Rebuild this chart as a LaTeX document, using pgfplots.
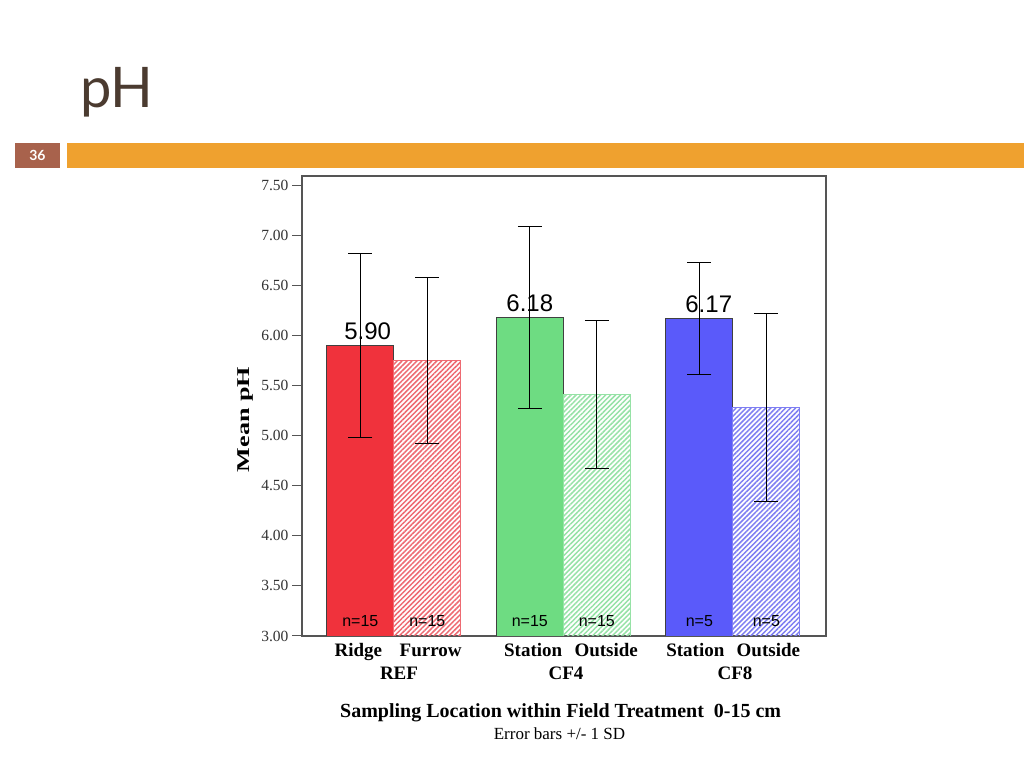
\documentclass[border=0pt]{standalone}
\usepackage{fontspec}
\setmainfont{Liberation Serif}
\newfontfamily\arial{Liberation Sans}
\newfontfamily\lato{Lato}
\usepackage{pgfplots}
\pgfplotsset{compat=1.18}
\usetikzlibrary{patterns.meta}
\definecolor{barred}{HTML}{F0323C}
\definecolor{bargreen}{HTML}{6EDC82}
\definecolor{barblue}{HTML}{5A5AFA}
\definecolor{hatchred}{HTML}{EE6A72}
\definecolor{hatchgreen}{HTML}{96E2A6}
\definecolor{hatchblue}{HTML}{7E7EF2}
\definecolor{slideorange}{HTML}{EFA12F}
\definecolor{slidebrown}{HTML}{A8624C}
\definecolor{titlebrown}{HTML}{4B3B30}
\definecolor{axisgrey}{HTML}{555555}
\pgfplotsset{
  errs/.style={error bars/.cd, y dir=both, y explicit,
    error bar style={black, line width=1bp},
    error mark options={rotate=90, mark size=12bp, black, line width=1bp}},
  solidbar/.style={ybar, bar width=1, bar shift=0pt, fill=#1, draw=black!75, line width=0.8bp},
  hatchbar/.style={ybar, bar width=1, bar shift=0pt, draw=#1, line width=0.8bp,
    pattern={Lines[angle=45, distance=3.5bp, line width=1.5bp]}, pattern color=#1},
}
\begin{document}
\begin{tikzpicture}
\path[fill=white] (0,0) rectangle (1024bp,768bp);
\fill[slidebrown] (15bp,600bp) rectangle (60bp,625bp);
\fill[slideorange] (67bp,600bp) rectangle (1024bp,625bp);
\node[text=white, font=\lato\bfseries\fontsize{14bp}{16bp}\selectfont] at (37.5bp,612.5bp) {36};
\node[anchor=base west, inner sep=0, text=titlebrown, font=\lato\fontsize{56bp}{60bp}\selectfont] at (80bp,660bp) {pH};

\begin{axis}[
  at={(302bp,132bp)}, anchor=south west,
  width=524bp, height=460bp, scale only axis,
  xmin=0, xmax=7.82, ymin=3, ymax=7.59,
  clip mode=individual,
  axis line style={axisgrey, line width=1.2bp},
  ytick={3,3.5,4,4.5,5,5.5,6,6.5,7,7.5},
  /pgf/number format/fixed, /pgf/number format/fixed zerofill,
  /pgf/number format/precision=2, /pgf/number format/assume math mode=true,
  yticklabel style={font=\fontsize{15.5bp}{17bp}\selectfont, text=black!80},
  ytick pos=left, tick align=outside, major tick length=10bp,
  y tick style={axisgrey, line width=1bp},
  xtick={0.84,1.92,3.45,4.54,5.87,6.96},
  xticklabels={Ridge,Furrow,Station,Outside,Station,Outside},
  xticklabel style={font=\bfseries\fontsize{19bp}{21bp}\selectfont, anchor=base, yshift=-11bp, inner sep=0pt},
  x tick style={draw=none},
]
\addplot[solidbar=barred, errs] coordinates {(0.87,5.90) +- (0,0.92)};
\addplot[hatchbar=hatchred, errs] coordinates {(1.87,5.75) +- (0,0.83)};
\addplot[solidbar=bargreen, errs] coordinates {(3.40,6.18) +- (0,0.91)};
\addplot[hatchbar=hatchgreen, errs] coordinates {(4.40,5.41) +- (0,0.74)};
\addplot[solidbar=barblue, errs] coordinates {(5.93,6.17) +- (0,0.56)};
\addplot[hatchbar=hatchblue, errs] coordinates {(6.93,5.28) +- (0,0.94)};

\node[anchor=base, inner sep=0, font=\arial\fontsize{24bp}{26bp}\selectfont] at (axis cs:0.98,5.90) [yshift=6bp] {5.90};
\node[anchor=base, inner sep=0, font=\arial\fontsize{24bp}{26bp}\selectfont] at (axis cs:3.40,6.18) [yshift=6bp] {6.18};
\node[anchor=base, inner sep=0, font=\arial\fontsize{24bp}{26bp}\selectfont] at (axis cs:6.07,6.17) [yshift=6bp] {6.17};

\node[anchor=base, inner sep=0, font=\arial\fontsize{16bp}{18bp}\selectfont] at (axis cs:0.87,3.09) {n=15};
\node[anchor=base, inner sep=0, font=\arial\fontsize{16bp}{18bp}\selectfont] at (axis cs:1.87,3.09) {n=15};
\node[anchor=base, inner sep=0, font=\arial\fontsize{16bp}{18bp}\selectfont] at (axis cs:3.40,3.09) {n=15};
\node[anchor=base, inner sep=0, font=\arial\fontsize{16bp}{18bp}\selectfont] at (axis cs:4.40,3.09) {n=15};
\node[anchor=base, inner sep=0, font=\arial\fontsize{16bp}{18bp}\selectfont] at (axis cs:5.93,3.09) {n=5};
\node[anchor=base, inner sep=0, font=\arial\fontsize{16bp}{18bp}\selectfont] at (axis cs:6.93,3.09) {n=5};
\end{axis}

\node[anchor=base, inner sep=0, font=\bfseries\fontsize{19bp}{21bp}\selectfont] at (399bp,88bp) {REF};
\node[anchor=base, inner sep=0, font=\bfseries\fontsize{19bp}{21bp}\selectfont] at (566bp,88bp) {CF4};
\node[anchor=base, inner sep=0, font=\bfseries\fontsize{19bp}{21bp}\selectfont] at (735bp,88bp) {CF8};
\node[anchor=base west, inner sep=0, font=\bfseries\fontsize{20bp}{22bp}\selectfont] at (340bp,50bp) {Sampling Location within Field Treatment\ \ 0-15 cm};
\node[anchor=base, inner sep=0, font=\fontsize{17bp}{19bp}\selectfont] at (559.5bp,29bp) {Error bars +/- 1 SD};
\node[rotate=90, xscale=1.45, inner sep=0, font=\bfseries\fontsize{18bp}{20bp}\selectfont] at (245.5bp,348.5bp) {Mean pH};
\end{tikzpicture}
\end{document}
